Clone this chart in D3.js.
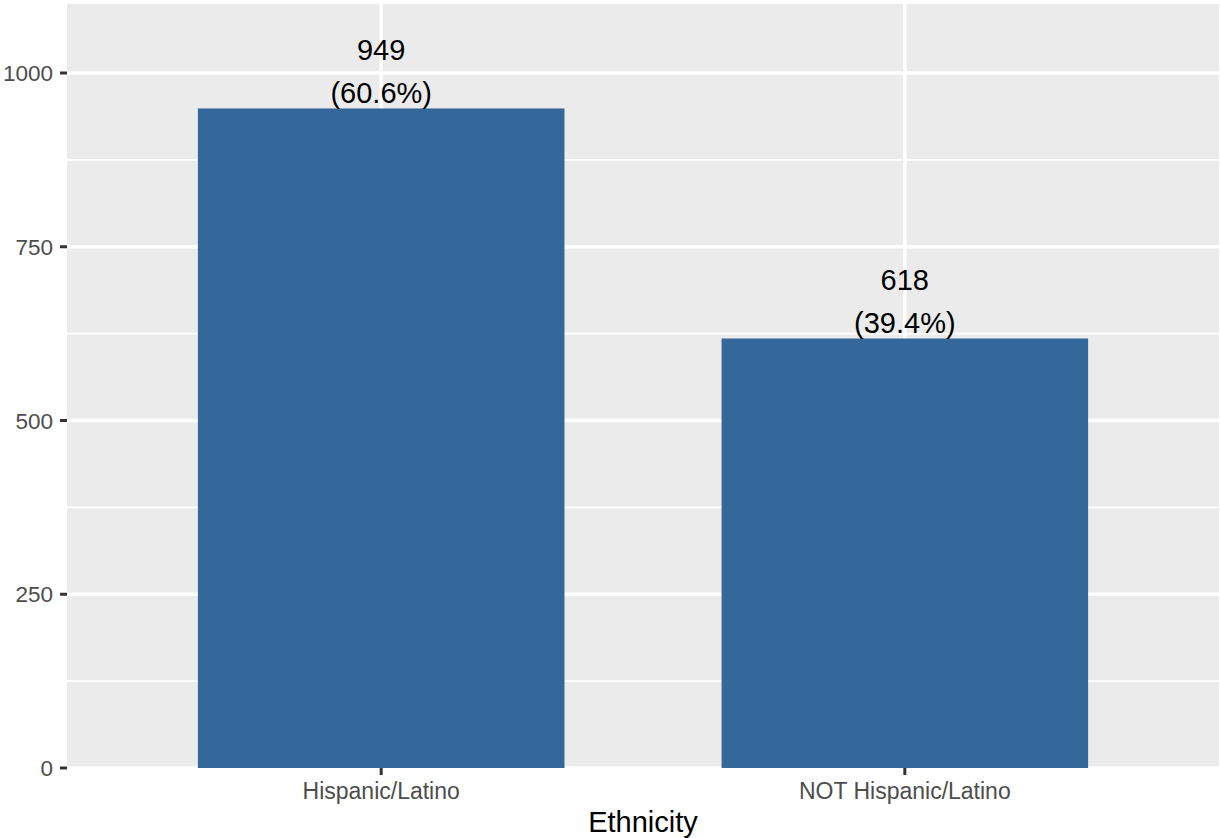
<!DOCTYPE html>
<html><head><meta charset="utf-8">
<script src="https://cdn.jsdelivr.net/npm/d3@7"></script>
<style>body{margin:0;background:#fff}svg{display:block}text{font-family:"Liberation Sans",Arial,Helvetica,sans-serif}</style>
</head><body>
<script>
const categories = ["Hispanic/Latino", "NOT Hispanic/Latino"];
const counts = [949, 618];
const percents = ["60.6%", "39.4%"];
const yTicks = [0, 250, 500, 750, 1000];
const yMinor = [125, 375, 625, 875];
const xTitle = "Ethnicity";

const W = 1220, H = 838;
const P = {left: 67, right: 1219, top: 4, bottom: 768};
const svg = d3.select("body").append("svg").attr("width", W).attr("height", H);

const y = d3.scaleLinear().domain([0, 1099.3]).range([P.bottom, P.top]);
// discrete scale: 2 categories with 0.6 expansion each side
const x = d3.scaleLinear().domain([0.4, 2.6]).range([P.left, P.right]);
const xc = c => x(1 + categories.indexOf(c));
const barW = x(1.7) - x(1);

svg.append("rect").attr("x", P.left).attr("y", P.top).attr("width", P.right - P.left).attr("height", P.bottom - P.top).attr("fill", "#EBEBEB");

const g = svg.append("g");
g.selectAll(".minor").data(yMinor).enter().append("line")
  .attr("x1", P.left).attr("x2", P.right).attr("y1", d => y(d)).attr("y2", d => y(d))
  .attr("stroke", "#fff").attr("stroke-width", 1.75);
g.selectAll(".major").data(yTicks).enter().append("line")
  .attr("x1", P.left).attr("x2", P.right).attr("y1", d => y(d)).attr("y2", d => y(d))
  .attr("stroke", "#fff").attr("stroke-width", 3.5);
g.selectAll(".vmajor").data(categories).enter().append("line")
  .attr("x1", d => xc(d)).attr("x2", d => xc(d)).attr("y1", P.top).attr("y2", P.bottom)
  .attr("stroke", "#fff").attr("stroke-width", 3.5);

svg.selectAll(".bar").data(categories).enter().append("rect")
  .attr("x", d => xc(d) - barW / 2).attr("width", barW)
  .attr("y", (d, i) => y(counts[i])).attr("height", (d, i) => y(0) - y(counts[i]))
  .attr("fill", "#34679A");

categories.forEach((c, i) => {
  const t = y(counts[i]);
  svg.append("text").attr("x", xc(c)).attr("y", t - 48).attr("text-anchor", "middle")
    .attr("font-size", 29).attr("fill", "#000").text(counts[i]);
  svg.append("text").attr("x", xc(c)).attr("y", t - 5).attr("text-anchor", "middle")
    .attr("font-size", 29).attr("fill", "#000").text("(" + percents[i] + ")");
});

// y axis
const ya = svg.append("g");
yTicks.forEach(v => {
  ya.append("line").attr("x1", P.left - 7).attr("x2", P.left).attr("y1", y(v)).attr("y2", y(v))
    .attr("stroke", "#333").attr("stroke-width", 3);
  ya.append("text").attr("x", P.left - 14).attr("y", y(v)).attr("dy", "0.36em")
    .attr("text-anchor", "end").attr("font-size", 22.5).attr("fill", "#4D4D4D").text(v);
});
// x axis
categories.forEach(c => {
  svg.append("line").attr("x1", xc(c)).attr("x2", xc(c)).attr("y1", P.bottom).attr("y2", P.bottom + 7)
    .attr("stroke", "#333").attr("stroke-width", 3);
  svg.append("text").attr("x", xc(c)).attr("y", 799).attr("text-anchor", "middle")
    .attr("font-size", 23).attr("fill", "#4D4D4D").text(c);
});
svg.append("text").attr("x", (P.left + P.right) / 2).attr("y", 831.5).attr("text-anchor", "middle")
  .attr("font-size", 29).attr("fill", "#000").text(xTitle);
</script>
</body></html>
